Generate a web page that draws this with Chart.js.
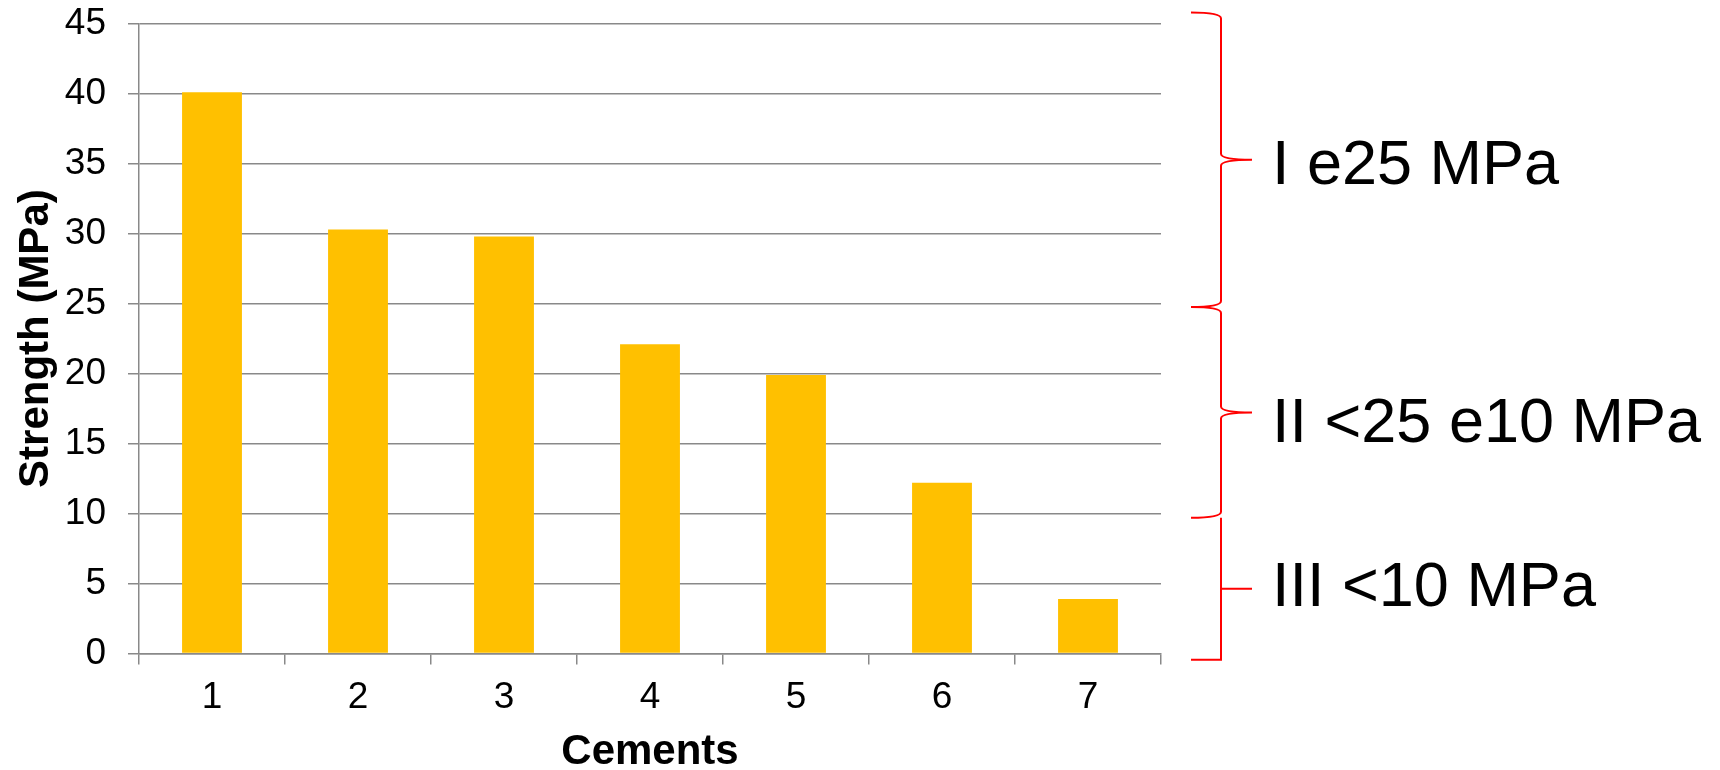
<!DOCTYPE html>
<html>
<head>
<meta charset="utf-8">
<script src="https://cdn.jsdelivr.net/npm/chart.js@4/dist/chart.umd.min.js"></script>
<style>
  html, body { margin: 0; padding: 0; background: #fff; }
  #wrap { width: 1720px; height: 770px; position: relative; }
</style>
</head>
<body>
<div id="wrap"><canvas id="c" width="1720" height="770"></canvas></div>
<script>
// ---- data ----
const categories = ['1', '2', '3', '4', '5', '6', '7'];
const strength = [40.1, 30.3, 29.8, 22.1, 19.9, 12.2, 3.9];
const yTicks = [0, 5, 10, 15, 20, 25, 30, 35, 40, 45];
const classLabels = ['I e25 MPa', 'II <25 e10 MPa', 'III <10 MPa'];
// value ranges (MPa) spanned by each bracket
const classTop = [45.8, 24.75, 9.7];
const classBottom = [24.75, 9.7, -0.45];

const FONT = "'Liberation Sans', Arial, sans-serif";

const bracketPlugin = {
  id: 'brackets',
  afterDraw(chart) {
    const ctx = chart.ctx;
    const y = chart.scales.y;
    const right = chart.chartArea.right;
    const xL = right + 30, xV = right + 60, xR = right + 91;
    const r = 6;
    const dy = [1, 7, -6];
    ctx.save();
    ctx.strokeStyle = '#FF0000';
    ctx.lineWidth = 2;
    ctx.lineJoin = 'miter';
    for (let i = 0; i < classLabels.length; i++) {
      const yT = y.getPixelForValue(classTop[i]);
      const yB = y.getPixelForValue(classBottom[i]);
      const yM = (yT + yB) / 2;
      ctx.beginPath();
      if (i < 2) {
        ctx.moveTo(xL, yT);
        ctx.quadraticCurveTo(xV, yT, xV, yT + r);
        ctx.lineTo(xV, yM - r);
        ctx.quadraticCurveTo(xV, yM, xR, yM);
        ctx.moveTo(xR, yM);
        ctx.quadraticCurveTo(xV, yM, xV, yM + r);
        ctx.lineTo(xV, yB - r);
        ctx.quadraticCurveTo(xV, yB, xL, yB);
      } else {
        ctx.moveTo(xV, yT);
        ctx.lineTo(xV, yB);
        ctx.lineTo(xL, yB);
        ctx.moveTo(xV, yM);
        ctx.lineTo(xR, yM);
      }
      ctx.stroke();
      ctx.fillStyle = '#000';
      ctx.font = '63px ' + FONT;
      ctx.textAlign = 'left';
      ctx.textBaseline = 'alphabetic';
      ctx.fillText(classLabels[i], right + 111, yM + 23 + dy[i]);
    }
    ctx.restore();
  }
};

new Chart(document.getElementById('c'), {
  type: 'bar',
  data: {
    labels: categories,
    datasets: [{
      data: strength,
      backgroundColor: '#FFC000',
      borderWidth: 0,
      barPercentage: 0.41,
      categoryPercentage: 1.0
    }]
  },
  options: {
    responsive: false,
    animation: false,
    devicePixelRatio: 1,
    layout: { padding: { top: 23.7, right: 559, left: 0, bottom: 0 } },
    plugins: { legend: { display: false }, tooltip: { enabled: false } },
    scales: {
      x: {
        offset: true,
        grid: {
          offset: true,
          drawOnChartArea: false,
          drawTicks: true,
          tickLength: 11,
          color: '#898989',
          lineWidth: 1.5
        },
        border: { color: '#898989', width: 1.5 },
        ticks: {
          color: '#000',
          font: { family: FONT, size: 37 },
          padding: 11,
          maxRotation: 0
        },
        title: {
          display: true,
          text: 'Cements',
          color: '#000',
          font: { family: FONT, size: 42, weight: 'bold', lineHeight: 0.86 },
          padding: { top: 0, bottom: 0 }
        },
        afterFit(scale) {
          scale.height = 770 - 653.5;
          scale.paddingLeft = 0; scale.paddingRight = 0;
        }
      },
      y: {
        min: 0,
        max: 45,
        afterBuildTicks(scale) { scale.ticks = yTicks.map(v => ({ value: v })); },
        grid: {
          color: '#898989',
          lineWidth: 1.5,
          tickLength: 11
        },
        border: { color: '#898989', width: 1.5 },
        ticks: {
          color: '#000',
          font: { family: FONT, size: 37 },
          padding: 22
        },
        title: {
          display: true,
          text: 'Strength (MPa)',
          color: '#000',
          font: { family: FONT, size: 42, weight: 'bold', lineHeight: 1.2 },
          padding: { top: 11, bottom: 0 }
        },
        afterFit(scale) {
          scale.width = 139;
          scale.paddingTop = 0; scale.paddingBottom = 0;
        }
      }
    }
  },
  plugins: [bracketPlugin]
});
</script>
</body>
</html>
